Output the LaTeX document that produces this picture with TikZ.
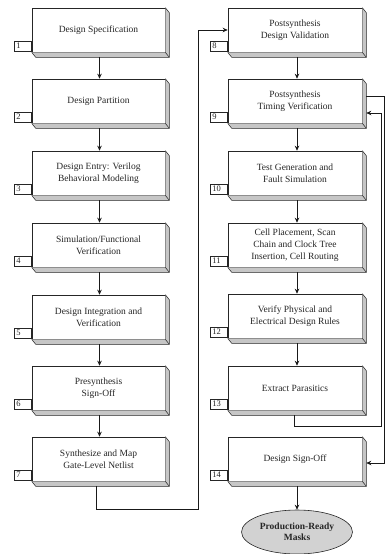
\documentclass[tikz,border=0pt]{standalone}
\usepackage{fontspec}
\setmainfont{Liberation Serif}
\usetikzlibrary{arrows.meta,shapes.geometric,calc}
\tikzset{
  stage/.style={draw=black!85, line width=0.6pt, fill=white, minimum height=44pt, inner sep=2pt,
    align=center, font=\fontsize{9.5}{12}\selectfont, text=black!85},
  stageL/.style={stage, minimum width=133pt},
  stageR/.style={stage, minimum width=134pt},
  numbox/.style={draw=black!85, line width=0.5pt, fill=white, minimum height=10pt, inner ysep=0pt,
    inner xsep=2pt, text width=13pt, align=left, font=\fontsize{8.5}{9}\selectfont, text=black!85},
  arr/.style={draw=black!90, line width=0.9pt, -{Stealth[length=5pt,width=4.5pt]}},
  masks/.style={ellipse, draw=black!85, line width=0.6pt, fill=gray!35, minimum width=111pt,
    minimum height=44pt, inner sep=0pt, align=center, font=\fontsize{9.5}{11}\selectfont\bfseries, text=black!85}
}
\newcommand{\extrude}[1]{%
  \fill[gray!45] (#1.north east) -- ++(4,5) -- ($(#1.south east)+(4,5)$) -- ($(#1.south west)+(4,5)$) -- (#1.south west) -- (#1.south east) -- cycle;
  \draw[black!85, line width=0.5pt] (#1.north east) -- ++(4,5) -- ($(#1.south east)+(4,5)$) -- ($(#1.south west)+(4,5)$) -- (#1.south west);
  \draw[black!85, line width=0.5pt] (#1.south east) -- ++(4,5);
}
\begin{document}
\begin{tikzpicture}[x=1pt,y=-1pt]
\useasboundingbox (0,0) rectangle (385,554);
% left column
\node[stageL] (b1) at (98.5,30) {Design Specification};
\node[stageL] (b2) at (98.5,101) {Design Partition};
\node[stageL] (b3) at (98.5,173) {Design Entry: Verilog\\Behavioral Modeling};
\node[stageL] (b4) at (98.5,245) {Simulation/Functional\\Verification};
\node[stageL] (b5) at (98.5,317) {Design Integration and\\Verification};
\node[stageL] (b6) at (98.5,388) {Presynthesis\\Sign-Off};
\node[stageL] (b7) at (98.5,459) {Synthesize and Map\\Gate-Level Netlist};
% right column
\node[stageR] (b8) at (295,30) {Postsynthesis\\Design Validation};
\node[stageR] (b9) at (295,101) {Postsynthesis\\Timing Verification};
\node[stageR] (b10) at (295,173) {Test Generation and\\Fault Simulation};
\node[stageR] (b11) at (295,245) {Cell Placement, Scan\\Chain and Clock Tree\\Insertion, Cell Routing};
\node[stageR] (b12) at (295,316) {Verify Physical and\\Electrical Design Rules};
\node[stageR] (b13) at (295,388) {Extract Parasitics};
\node[stageR] (b14) at (295,459) {Design Sign-Off};
\foreach \i in {1,...,14}{\extrude{b\i}}
\foreach \i in {1,...,14}{
  \node[numbox, anchor=south east] (n\i) at ([yshift=1pt]b\i.south west) {\i};
}
\node[masks] (m) at (297,532) {Production-Ready\\Masks};
% arrows down the columns
\foreach \a/\b in {1/2,2/3,3/4,4/5,5/6,6/7}{
  \draw[arr] ([xshift=1pt,yshift=-5pt]b\a.south) -- ([xshift=1pt]b\b.north);
}
\foreach \a/\b in {8/9,9/10,10/11,11/12,12/13}{
  \draw[arr] ([xshift=2pt,yshift=-5pt]b\a.south) -- ([xshift=2pt]b\b.north);
}
\draw[arr] ([xshift=2pt,yshift=-5pt]b14.south) -- (m.north -| {$(b14.south)+(2,0)$});
% return from 7 to 8
\coordinate (r1) at (198,509);
\draw[arr] ([xshift=-2pt,yshift=-5pt]b7.south) |- (r1) |- (b8.west);
% from 9 to 14
\coordinate (o1) at (384,96);
\draw[arr] ([xshift=4pt,yshift=5pt]b9.east) -- (o1) |- ([xshift=4pt,yshift=-4pt]b14.east);
% from 13 back to 9
\coordinate (i1) at (381,426);
\draw[arr] ([xshift=-1pt,yshift=-5pt]b13.south) |- (i1) |- ([xshift=4pt,yshift=-12pt]b9.east);
\end{tikzpicture}
\end{document}
